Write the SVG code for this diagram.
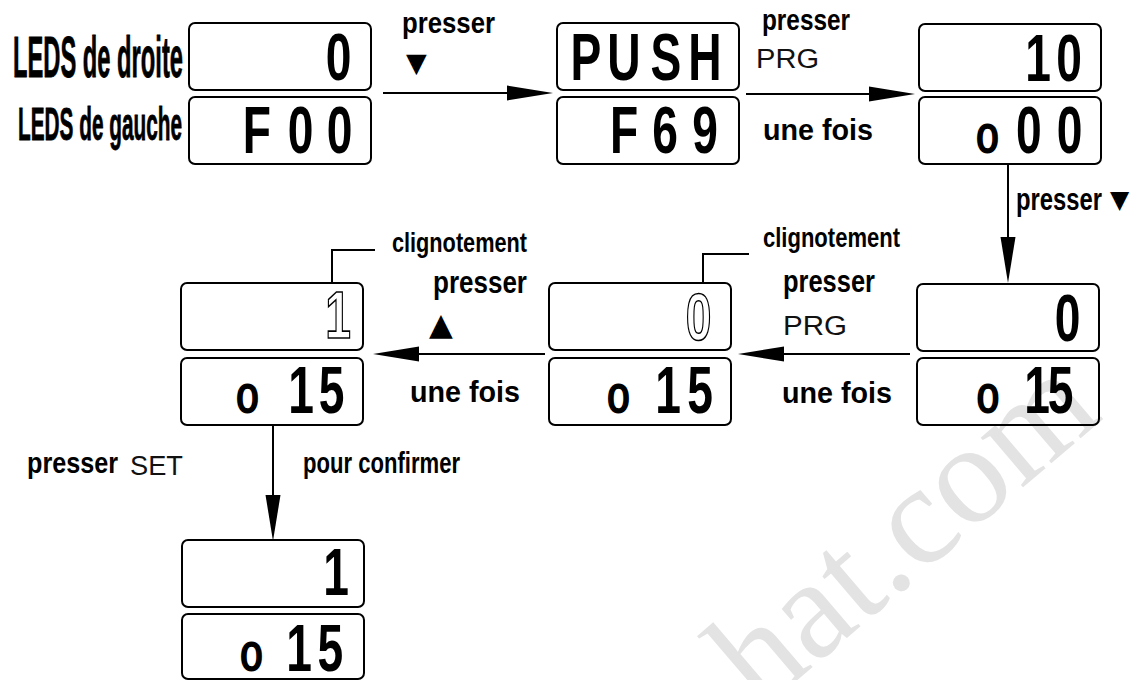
<svg xmlns="http://www.w3.org/2000/svg" width="1141" height="680" viewBox="0 0 1141 680">
<style>
.box{fill:none;stroke:#000;stroke-width:2}
.lcd{font-family:"Liberation Sans",Arial,sans-serif;font-weight:bold;font-size:66px;text-anchor:middle;fill:#000}
.lcd .o{font-size:56px}
.blink{fill:#fff;stroke:#000;stroke-width:1.6}
.lbl{font-family:"Liberation Sans",Arial,sans-serif;font-weight:bold;fill:#000}
.big{stroke:#000;stroke-width:0.8}
.key{font-family:"Liberation Sans",Arial,sans-serif;font-size:27px;fill:#111}
.sym{font-family:"DejaVu Sans",sans-serif;fill:#000}
.con{stroke:#000;stroke-width:2;fill:none}
.wm{font-family:"Liberation Serif","Times New Roman",serif;font-size:142px;fill:#e3e3e3}
</style>
<defs>
<marker id="ah" markerUnits="userSpaceOnUse" markerWidth="46" markerHeight="16" refX="36" refY="8" orient="auto">
<path d="M0,0.5 L46,8 L0,15.5 z" fill="#000"/>
</marker>
</defs>
<rect width="1141" height="680" fill="#fff"/>
<text class="wm" x="760" y="712" transform="rotate(-40.5 760 712)">hat.com</text>

<g id="row-labels">
<text class="lbl big" x="13" y="77" font-size="58" textLength="170" lengthAdjust="spacingAndGlyphs">LEDS de droite</text>
<text class="lbl big" x="18" y="140" font-size="46" textLength="164" lengthAdjust="spacingAndGlyphs">LEDS de gauche</text>
</g>

<g id="n1" transform="translate(189,23)">
<rect class="box" x="0" y="0" width="182" height="67" rx="6"/>
<rect class="box" x="0" y="74" width="182" height="67" rx="6"/>
<text class="lcd" transform="translate(182,57) scale(0.7,1)" x="-46.4">0</text>
<text class="lcd" transform="translate(182,130) scale(0.7,1)" x="-162.9 -100.7 -45">F00</text>
</g>

<g id="n2" transform="translate(557,23)">
<rect class="box" x="0" y="0" width="182" height="67" rx="6"/>
<rect class="box" x="0" y="74" width="182" height="67" rx="6"/>
<text class="lcd" transform="translate(182,57) scale(0.7,1)" x="-218.6 -164.3 -104.3 -48.6">PUSH</text>
<text class="lcd" transform="translate(182,130) scale(0.7,1)" x="-164.3 -105.7 -48.6">F69</text>
</g>

<g id="n3" transform="translate(919,24)">
<rect class="box" x="0" y="0" width="182" height="67" rx="6"/>
<rect class="box" x="0" y="73" width="182" height="67" rx="6"/>
<text class="lcd" transform="translate(182,57) scale(0.7,1)" x="-90 -45.7">10</text>
<text class="lcd" transform="translate(182,129) scale(0.7,1)"><tspan class="o" x="-162.1">o</tspan><tspan x="-102.9">0</tspan><tspan x="-45">0</tspan></text>
</g>

<g id="n4" transform="translate(917,284)">
<rect class="box" x="0" y="0" width="182" height="67" rx="6"/>
<rect class="box" x="0" y="74" width="182" height="67" rx="6"/>
<text class="lcd" transform="translate(182,57) scale(0.7,1)" x="-45">0</text>
<text class="lcd" transform="translate(182,129) scale(0.7,1)"><tspan class="o" x="-158.6">o</tspan><tspan x="-88.5">1</tspan><tspan x="-55">5</tspan></text>
</g>

<g id="n5" transform="translate(549,283)">
<rect class="box" x="0" y="0" width="182" height="67" rx="6"/>
<rect class="box" x="0" y="75" width="182" height="67" rx="6"/>
<text class="lcd blink" transform="translate(182,57) scale(0.7,1)" x="-46.4">0</text>
<text class="lcd" transform="translate(182,130) scale(0.7,1)"><tspan class="o" x="-160.7">o</tspan><tspan x="-90">1</tspan><tspan x="-44.3">5</tspan></text>
</g>

<g id="n6" transform="translate(181,283)">
<rect class="box" x="0" y="0" width="182" height="67" rx="6"/>
<rect class="box" x="0" y="75" width="182" height="67" rx="6"/>
<text class="lcd blink" transform="translate(182,55) scale(0.7,1)" x="-35.7">1</text>
<text class="lcd" transform="translate(182,130) scale(0.7,1)"><tspan class="o" x="-165">o</tspan><tspan x="-88.6">1</tspan><tspan x="-45">5</tspan></text>
</g>

<g id="n7" transform="translate(182,540)">
<rect class="box" x="0" y="0" width="182" height="67" rx="6"/>
<rect class="box" x="0" y="74" width="182" height="65" rx="6"/>
<text class="lcd" transform="translate(182,55) scale(0.7,1)" x="-40">1</text>
<text class="lcd" transform="translate(182,131) scale(0.7,1)"><tspan class="o" x="-160.7">o</tspan><tspan x="-92.9">1</tspan><tspan x="-47.9">5</tspan></text>
</g>

<g id="connectors">
<line class="con" x1="383" y1="93" x2="543" y2="93" marker-end="url(#ah)"/>
<line class="con" x1="746" y1="94" x2="905" y2="94" marker-end="url(#ah)"/>
<line class="con" x1="1008" y1="164" x2="1008" y2="273" marker-end="url(#ah)"/>
<line class="con" x1="910" y1="354" x2="748" y2="354" marker-end="url(#ah)"/>
<line class="con" x1="545" y1="354" x2="383" y2="354" marker-end="url(#ah)"/>
<line class="con" x1="273" y1="425" x2="273" y2="531" marker-end="url(#ah)"/>
<polyline class="con" points="332,283 332,250 375,250"/>
<polyline class="con" points="703,283 703,254 749,254"/>
</g>

<g id="edge-labels">
<text class="lbl" x="402" y="33" font-size="29" textLength="93" lengthAdjust="spacingAndGlyphs">presser</text>
<text class="sym" x="406" y="72" font-size="27">▼</text>
<text class="lbl" x="762" y="30" font-size="29" textLength="88" lengthAdjust="spacingAndGlyphs">presser</text>
<text class="key" x="756" y="68" textLength="63" lengthAdjust="spacingAndGlyphs">PRG</text>
<text class="lbl" x="763" y="140" font-size="29" textLength="110" lengthAdjust="spacingAndGlyphs">une fois</text>
<text class="lbl" x="1016" y="210" font-size="31" textLength="86" lengthAdjust="spacingAndGlyphs">presser</text>
<text class="sym" x="1110" y="208" font-size="25">▼</text>
<text class="lbl" x="392" y="252" font-size="27" textLength="135" lengthAdjust="spacingAndGlyphs">clignotement</text>
<text class="lbl" x="433" y="293" font-size="31" textLength="94" lengthAdjust="spacingAndGlyphs">presser</text>
<text class="sym" x="429" y="335" font-size="31">▲</text>
<text class="lbl" x="410" y="402" font-size="29" textLength="110" lengthAdjust="spacingAndGlyphs">une fois</text>
<text class="lbl" x="763" y="247" font-size="27" textLength="137" lengthAdjust="spacingAndGlyphs">clignotement</text>
<text class="lbl" x="783" y="292" font-size="31" textLength="92" lengthAdjust="spacingAndGlyphs">presser</text>
<text class="key" x="783" y="335" textLength="64" lengthAdjust="spacingAndGlyphs">PRG</text>
<text class="lbl" x="782" y="403" font-size="29" textLength="110" lengthAdjust="spacingAndGlyphs">une fois</text>
<text class="lbl" x="27" y="473" font-size="29" textLength="91" lengthAdjust="spacingAndGlyphs">presser</text>
<text class="key" x="130" y="475" font-size="28" textLength="53" lengthAdjust="spacingAndGlyphs">SET</text>
<text class="lbl" x="303" y="473" font-size="29" textLength="157" lengthAdjust="spacingAndGlyphs">pour confirmer</text>
</g>
</svg>
